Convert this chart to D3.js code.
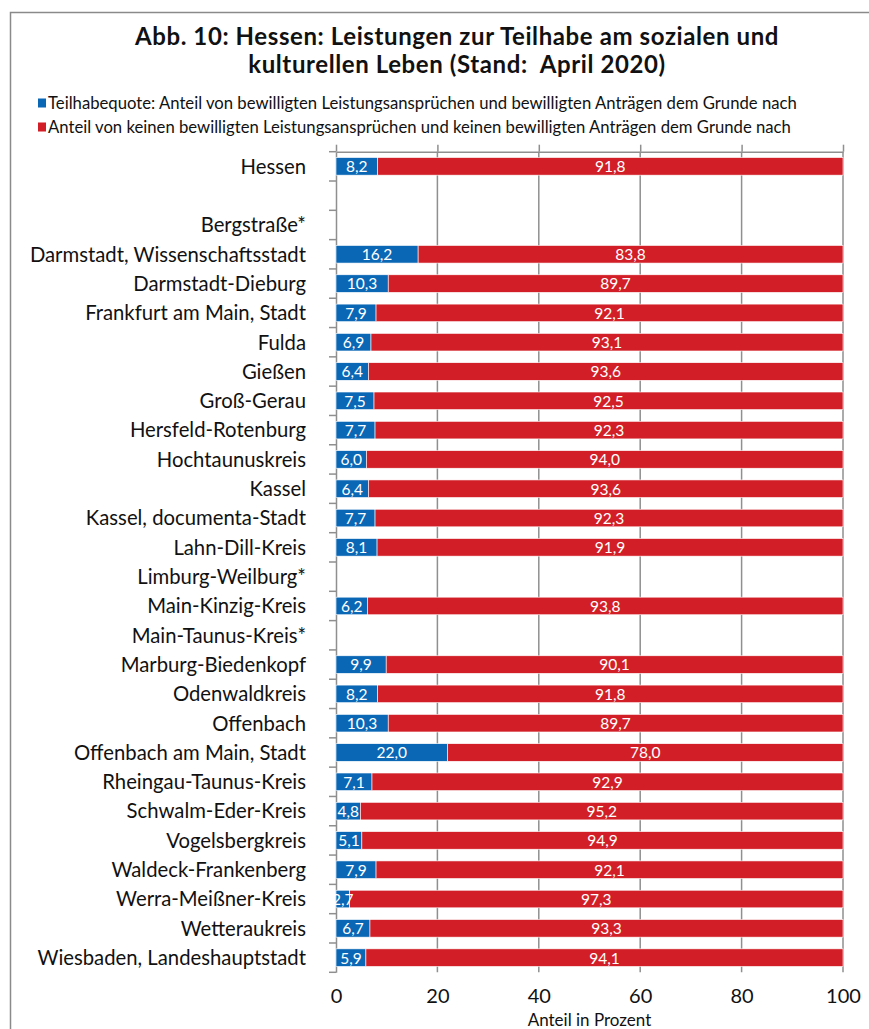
<!DOCTYPE html>
<html lang="de">
<head>
<meta charset="utf-8">
<script src="https://cdn.jsdelivr.net/npm/d3@7/dist/d3.min.js"></script>
<style>
  html, body { margin: 0; padding: 0; background: #fff; }
  svg { display: block; font-family: Lato, "Open Sans", sans-serif; }
  .title { white-space: pre; }
</style>
</head>
<body>
<svg id="chart" width="869" height="1029"></svg>
<script>
// Kreise und kreisfreie Städte (leere Zeile trennt Hessen vom Rest)
const categories = [
  "Hessen", "", "Bergstraße*", "Darmstadt, Wissenschaftsstadt", "Darmstadt-Dieburg",
  "Frankfurt am Main, Stadt", "Fulda", "Gießen", "Groß-Gerau", "Hersfeld-Rotenburg",
  "Hochtaunuskreis", "Kassel", "Kassel, documenta-Stadt", "Lahn-Dill-Kreis",
  "Limburg-Weilburg*", "Main-Kinzig-Kreis", "Main-Taunus-Kreis*", "Marburg-Biedenkopf",
  "Odenwaldkreis", "Offenbach", "Offenbach am Main, Stadt", "Rheingau-Taunus-Kreis",
  "Schwalm-Eder-Kreis", "Vogelsbergkreis", "Waldeck-Frankenberg", "Werra-Meißner-Kreis",
  "Wetteraukreis", "Wiesbaden, Landeshauptstadt"
];

// Teilhabequote in Prozent (null = keine Angaben)
const teilhabequote = [
  8.2, null, null, 16.2, 10.3, 7.9, 6.9, 6.4, 7.5, 7.7, 6.0, 6.4, 7.7, 8.1,
  null, 6.2, null, 9.9, 8.2, 10.3, 22.0, 7.1, 4.8, 5.1, 7.9, 2.7, 6.7, 5.9
];

// Anteil ohne bewilligte Leistungsansprüche in Prozent
const ohneLeistung = [
  91.8, null, null, 83.8, 89.7, 92.1, 93.1, 93.6, 92.5, 92.3, 94.0, 93.6, 92.3, 91.9,
  null, 93.8, null, 90.1, 91.8, 89.7, 78.0, 92.9, 95.2, 94.9, 92.1, 97.3, 93.3, 94.1
];

const xTicks = [0, 20, 40, 60, 80, 100];

const seriesNames = [
  "Teilhabequote: Anteil von bewilligten Leistungsansprüchen und bewilligten Anträgen dem Grunde nach",
  "Anteil von keinen bewilligten Leistungsansprüchen und keinen bewilligten Anträgen dem Grunde nach"
];
const seriesColors = ["#0a67b5", "#d21f27"];

const titleLines = [
  "Abb. 10: Hessen: Leistungen zur Teilhabe am sozialen und",
  "kulturellen Leben (Stand:  April 2020)"
];
const xAxisTitle = "Anteil in Prozent";

const fmt = v => d3.format(".1f")(v).replace(".", ",");

const svg = d3.select("#chart");
const gridColor = "#8f8f8f";

// Rahmen des Diagrammbereichs
svg.append("rect")
  .attr("x", 10.5).attr("y", 12.5)
  .attr("width", 900).attr("height", 1100)
  .attr("fill", "none").attr("stroke", "#8a8a8a").attr("stroke-width", 1.5);

// Titel
svg.append("g").selectAll("text").data(titleLines).join("text")
  .attr("class", "title")
  .attr("x", 457).attr("y", (d, i) => 44.5 + i * 28.9)
  .attr("text-anchor", "middle")
  .attr("font-size", 24).attr("font-weight", 700).attr("letter-spacing", 0.6)
  .attr("fill", "#111")
  .text(d => d);

// Legende
const legend = svg.append("g").selectAll("g").data(seriesNames).join("g")
  .attr("transform", (d, i) => `translate(38, ${103 + i * 24})`);
legend.append("rect")
  .attr("x", 0).attr("y", -4.5).attr("width", 8).attr("height", 9)
  .attr("fill", (d, i) => seriesColors[i]);
legend.append("text")
  .attr("x", 10).attr("dy", "0.36em")
  .attr("font-size", 16.7).attr("fill", "#111")
  .text(d => d);

// Skalen
const x = d3.scaleLinear().domain([0, 100]).range([336, 843]);
const y = d3.scaleBand()
  .domain(d3.range(categories.length))
  .range([151.7, 972.3])
  .paddingInner(0.4).paddingOuter(0.2);
const yTop = y.range()[0], yBottom = y.range()[1];

// Vertikale Gitternetzlinien
svg.append("g").selectAll("line").data(xTicks.slice(1)).join("line")
  .attr("x1", d => x(d)).attr("x2", d => x(d))
  .attr("y1", yTop).attr("y2", yBottom)
  .attr("stroke", gridColor).attr("stroke-width", 1.5);

// Werteachse oben (Linie und Teilstriche)
const topAxis = svg.append("g")
  .attr("transform", `translate(0, ${yTop})`)
  .call(d3.axisTop(x).tickValues(xTicks).tickSize(7).tickSizeOuter(0).tickFormat(""));
topAxis.selectAll("path, line").attr("stroke", gridColor).attr("stroke-width", 1.5);

// Beschriftung der Werteachse unten
const bottomAxis = svg.append("g")
  .attr("transform", `translate(0, ${yBottom})`)
  .call(d3.axisBottom(x).tickValues(xTicks).tickSize(0).tickPadding(17).tickFormat(d3.format("d")));
bottomAxis.select(".domain").remove();
bottomAxis.selectAll("text")
  .attr("font-family", "Lato, sans-serif").attr("font-size", 20).attr("fill", "#111");

svg.append("text")
  .attr("x", (x(0) + x(100)) / 2).attr("y", 1026)
  .attr("text-anchor", "middle").attr("font-size", 17).attr("fill", "#111")
  .text(xAxisTitle);

// Kategorienachse links
const leftAxis = svg.append("g")
  .attr("transform", `translate(${x(0)}, 0)`)
  .call(d3.axisLeft(y).tickSize(0).tickSizeOuter(0).tickPadding(30).tickFormat(i => categories[i]));
leftAxis.select(".domain").attr("stroke", gridColor).attr("stroke-width", 1.5);
leftAxis.selectAll("text")
  .attr("font-family", "Lato, sans-serif").attr("font-size", 20.3).attr("fill", "#111")
  .attr("dy", "0.36em");

// Teilstriche an den Kategoriegrenzen
const boundaries = d3.range(categories.length + 1).map(i => yTop + i * y.step());
svg.append("g").selectAll("line").data(boundaries).join("line")
  .attr("x1", x(0) - 7).attr("x2", x(0))
  .attr("y1", d => d).attr("y2", d => d)
  .attr("stroke", gridColor).attr("stroke-width", 1.5);

// Gestapelte Balken
const rows = categories.map((c, i) => ({ i, a: teilhabequote[i], b: ohneLeistung[i] }))
  .filter(d => d.a != null);

const bars = svg.append("g").selectAll("g").data(rows).join("g");

bars.append("rect")
  .attr("x", x(0)).attr("y", d => y(d.i))
  .attr("width", d => x(d.a) - x(0)).attr("height", y.bandwidth())
  .attr("fill", seriesColors[0]).attr("stroke", "#fff").attr("stroke-width", 0.6);
bars.append("rect")
  .attr("x", d => x(d.a)).attr("y", d => y(d.i))
  .attr("width", d => x(d.a + d.b) - x(d.a)).attr("height", y.bandwidth())
  .attr("fill", seriesColors[1]).attr("stroke", "#fff").attr("stroke-width", 0.6);

// Wertebeschriftungen
bars.append("text")
  .attr("x", d => (x(0) + x(d.a)) / 2).attr("y", d => y(d.i) + y.bandwidth() / 2)
  .attr("dy", "0.38em").attr("text-anchor", "middle")
  .attr("font-size", 15.5).attr("fill", "#fff")
  .text(d => fmt(d.a));
bars.append("text")
  .attr("x", d => (x(d.a) + x(d.a + d.b)) / 2).attr("y", d => y(d.i) + y.bandwidth() / 2)
  .attr("dy", "0.38em").attr("text-anchor", "middle")
  .attr("font-size", 15.5).attr("fill", "#fff")
  .text(d => fmt(d.b));
</script>
</body>
</html>
